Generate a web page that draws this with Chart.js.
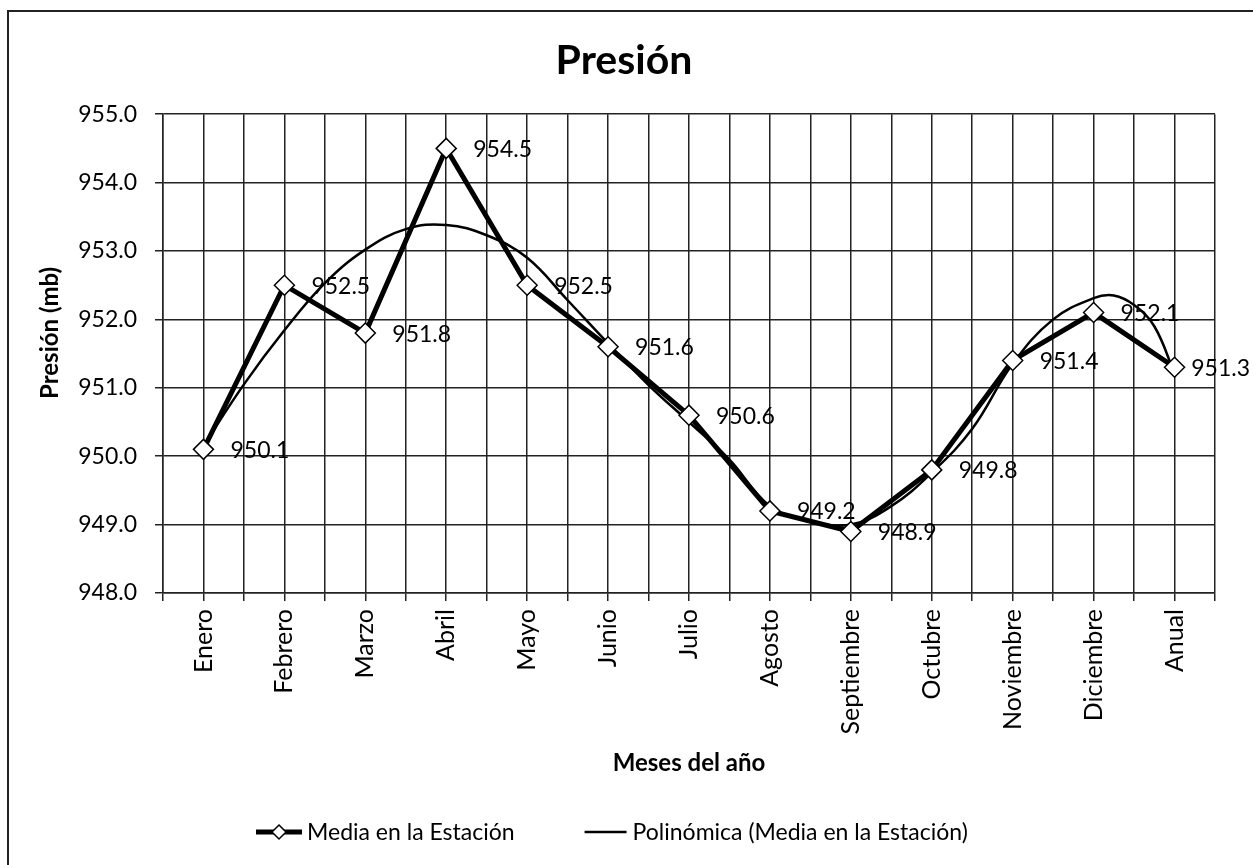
<!DOCTYPE html>
<html>
<head>
<meta charset="utf-8">
<script src="https://cdn.jsdelivr.net/npm/chart.js@4/dist/chart.umd.min.js"></script>
<style>
  html, body { margin: 0; padding: 0; background: #fff; }
  #wrap { width: 1253px; height: 865px; position: relative; }
</style>
</head>
<body>
<div id="wrap"><canvas id="chart" width="1253" height="865"></canvas></div>
<script>
// ----- Data -----
const months = ['Enero','Febrero','Marzo','Abril','Mayo','Junio','Julio','Agosto','Septiembre','Octubre','Noviembre','Diciembre','Anual'];
const media = [950.1, 952.5, 951.8, 954.5, 952.5, 951.6, 950.6, 949.2, 948.9, 949.8, 951.4, 952.1, 951.3];

// polynomial trend line
const trendX = [0, 0.5, 1, 1.5, 2, 2.5, 3, 3.5, 4, 4.5, 5, 5.5, 6, 6.5, 7, 7.5, 8, 8.5, 9, 9.5, 10, 10.5, 11, 11.25, 11.5, 11.75, 12];
const trendY = [950.15, 951.05, 951.84, 952.53, 953.02, 953.32, 953.38, 953.23, 952.90, 952.28, 951.65, 951.04, 950.50, 949.95, 949.27, 949.05, 949.00, 949.27, 949.76, 950.40, 951.35, 952.00, 952.31, 952.35, 952.21, 951.90, 951.21];

const yTicks = [948, 949, 950, 951, 952, 953, 954, 955];
const seriesNames = ['Media en la Estación', 'Polinómica (Media en la Estación)'];

const FONT = 'Lato';

// white background, outer frame, y title and legend
const decor = {
  id: 'decor',
  beforeDraw(chart) {
    const c = chart.ctx;
    c.save();
    c.fillStyle = '#fff';
    c.fillRect(0, 0, chart.width, chart.height);
    c.strokeStyle = '#222';
    c.lineWidth = 2;
    c.beginPath();
    c.moveTo(8, chart.height + 2);
    c.lineTo(8, 11);
    c.lineTo(chart.width + 2, 11);
    c.stroke();
    c.restore();
  },
  afterDraw(chart) {
    const c = chart.ctx;
    c.save();
    // y axis title
    c.font = 'bold 24px ' + FONT;
    c.fillStyle = '#000';
    c.textAlign = 'center';
    c.textBaseline = 'middle';
    c.translate(50, 333);
    c.rotate(-Math.PI / 2);
    c.fillText('Presión (mb)', 0, 0);
    c.restore();

    // legend
    c.save();
    const ly = 832;
    c.font = '23px ' + FONT;
    c.fillStyle = '#000';
    c.strokeStyle = '#000';
    c.textBaseline = 'middle';
    c.textAlign = 'left';
    let x = 256;
    c.lineWidth = 5;
    c.beginPath(); c.moveTo(x, ly); c.lineTo(x + 46, ly); c.stroke();
    c.lineWidth = 1.5;
    c.fillStyle = '#fff';
    c.beginPath();
    c.moveTo(x + 23, ly - 7); c.lineTo(x + 30, ly); c.lineTo(x + 23, ly + 7); c.lineTo(x + 16, ly); c.closePath();
    c.fill(); c.stroke();
    c.fillStyle = '#000';
    x += 51;
    c.fillText(seriesNames[0], x, ly + 1);
    x += c.measureText(seriesNames[0]).width + 70;
    c.lineWidth = 2.5;
    c.beginPath(); c.moveTo(x, ly); c.lineTo(x + 42, ly); c.stroke();
    x += 48;
    c.fillText(seriesNames[1], x, ly + 1);
    c.restore();
  }
};

// value labels right of each point
const valueLabels = {
  id: 'valueLabels',
  afterDatasetsDraw(chart) {
    const c = chart.ctx;
    const meta = chart.getDatasetMeta(0);
    c.save();
    c.font = '23px ' + FONT;
    c.fillStyle = '#000';
    c.textAlign = 'left';
    c.textBaseline = 'middle';
    meta.data.forEach((pt, i) => {
      const txt = media[i].toFixed(1);
      const w = c.measureText(txt).width;
      const x = Math.min(pt.x + 27, chart.width - 3 - w);
      c.fillText(txt, x, pt.y + 1);
    });
    c.restore();
  }
};

const ctx = document.getElementById('chart').getContext('2d');
new Chart(ctx, {
  type: 'line',
  data: {
    datasets: [{
      label: seriesNames[0],
      data: media.map((v, i) => ({x: i, y: v})),
      borderColor: '#000',
      borderWidth: 5,
      pointStyle: 'rectRot',
      pointRadius: 10,
      pointBackgroundColor: '#fff',
      pointBorderColor: '#000',
      pointBorderWidth: 1.5,
      tension: 0
    }, {
      label: seriesNames[1],
      data: trendX.map((x, i) => ({x: x, y: trendY[i]})),
      borderColor: '#000',
      borderWidth: 2.5,
      pointRadius: 0,
      tension: 0.4
    }]
  },
  options: {
    responsive: false,
    animation: false,
    devicePixelRatio: 1,
    layout: { padding: { top: 12, left: 20, right: 25, bottom: 55 } },
    plugins: {
      title: {
        display: true,
        text: 'Presión',
        color: '#000',
        font: { family: FONT, size: 41, weight: 'bold' },
        padding: { top: 24, bottom: 29 }
      },
      legend: { display: false },
      tooltip: { enabled: false }
    },
    scales: {
      x: {
        type: 'linear',
        min: -0.5,
        max: 12.5,
        afterFit(s) { s.height = 217; },
        afterBuildTicks(s) {
          const t = [];
          for (let k = 0; k <= 26; k++) t.push({ value: -0.5 + k * 0.5 });
          s.ticks = t;
        },
        grid: { color: '#222', lineWidth: 1.5, tickLength: 8, tickColor: '#222' },
        border: { color: '#222', width: 1.5 },
        ticks: {
          autoSkip: false,
          minRotation: 90,
          maxRotation: 90,
          padding: 8,
          color: '#000',
          font: { family: FONT, size: 25 },
          callback: (v) => Number.isInteger(v) ? months[v] : ''
        },
        title: {
          display: true,
          text: 'Meses del año',
          color: '#000',
          font: { family: FONT, size: 24, weight: 'bold' },
          padding: { top: 0, bottom: 32 }
        }
      },
      y: {
        min: 948,
        max: 955,
        afterFit(s) { s.width = 143; },
        afterBuildTicks(s) { s.ticks = yTicks.map(v => ({ value: v })); },
        grid: { color: '#222', lineWidth: 1.5, tickLength: 8, tickColor: '#222' },
        border: { color: '#222', width: 1.5 },
        ticks: {
          padding: 18,
          color: '#000',
          font: { family: FONT, size: 23 },
          callback: (v) => v.toFixed(1)
        }
      }
    }
  },
  plugins: [decor, valueLabels]
});
</script>
</body>
</html>
